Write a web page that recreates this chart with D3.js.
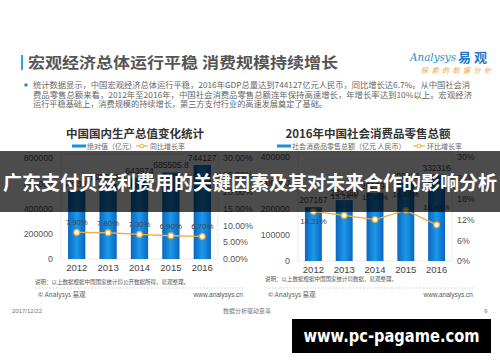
<!DOCTYPE html>
<html>
<head>
<meta charset="utf-8">
<script src="https://cdn.jsdelivr.net/npm/d3@7"></script>
<style>
  html, body { margin: 0; padding: 0; background: #fff; }
  svg { display: block; }
  text { font-family: "Noto Sans CJK SC", "Noto Sans", sans-serif; }
  .num { font-family: "Liberation Sans", Arial, sans-serif; }
</style>
</head>
<body>
<svg id="chart" width="500" height="362"></svg>
<script>
// --- data ---
const years = ['2012', '2013', '2014', '2015', '2016'];
const gdpValues = [540367, 595244.4, 643974, 685505.8, 744127];
const gdpGrowth = [7.9, 7.8, 7.3, 6.9, 6.7];
const retailValues = [207167, 234380, 262394, 300931, 332316];
const retailGrowth = [14.31, 13.14, 11.96, 14.69, 10.43];
const gdpTicks = [0, 200000, 400000, 600000, 800000];
const gdpPctTicks = [0, 5, 10, 15, 20, 25, 30];
const retailTicks = [0, 100000, 200000, 300000, 400000];
const retailPctTicks = [0, 6, 12, 18, 24, 30];

const BLUE = '#1b8ee0';
const ORANGE = '#f1ac3e';
const GREY = '#666';

const svg = d3.select('#chart');

// gradient for bars (lighter in the middle)
const defs = svg.append('defs');
const grad = defs.append('linearGradient').attr('id', 'barGrad')
  .attr('x1', 0).attr('x2', 1).attr('y1', 0).attr('y2', 0);
grad.append('stop').attr('offset', '0%').attr('stop-color', '#0a66bd');
grad.append('stop').attr('offset', '50%').attr('stop-color', '#1d98ea');
grad.append('stop').attr('offset', '100%').attr('stop-color', '#0a66bd');

// --- slide header ---
svg.append('rect').attr('x', 21).attr('y', 55).attr('width', 2).attr('height', 15).attr('fill', '#3aa0d8');
svg.append('text').attr('x', 28).attr('y', 68)
  .attr('font-size', 15).attr('font-weight', 'bold').attr('fill', '#555')
  .attr('textLength', 310).attr('lengthAdjust', 'spacingAndGlyphs')
  .text('宏观经济总体运行平稳  消费规模持续增长');

// logo
svg.append('text').attr('x', 410).attr('y', 61)
  .attr('font-size', 11).attr('font-style', 'italic').attr('fill', '#2a8fc8')
  .attr('textLength', 46).attr('lengthAdjust', 'spacingAndGlyphs')
  .style('font-family', '"DejaVu Serif", serif').text('Analysys');
svg.append('text').attr('x', 458).attr('y', 62)
  .attr('font-size', 13).attr('font-weight', 'bold').attr('fill', '#1f78c8')
  .text('易 观');
svg.append('text').attr('x', 421).attr('y', 73)
  .attr('font-size', 7).attr('font-style', 'italic').attr('fill', '#f0a040')
  .attr('textLength', 70).attr('lengthAdjust', 'spacing')
  .text('探索的数据分析');

// bullet text
svg.append('circle').attr('cx', 26).attr('cy', 85).attr('r', 1.8).attr('fill', '#2a8fc8');
const bullet = [
  ['统计数据显示，中国宏观经济总体运行平稳，2016年GDP总量达到744127亿元人民币，同比增长达6.7%。从中国社会消', 437],
  ['费品零售总额来看，2012年至2016年，中国社会消费品零售总额连年保持高速增长，年增长率达到10%以上。宏观经济', 439],
  ['运行平稳基础上，消费规模的持续增长，第三方支付行业的高速发展奠定了基础。', 294]
];
bullet.forEach((b, i) => {
  svg.append('text').attr('x', 33).attr('y', 88 + i * 9.6)
    .attr('font-size', 8.2).attr('fill', '#666')
    .attr('textLength', b[1]).attr('lengthAdjust', 'spacingAndGlyphs')
    .text(b[0]);
});

// --- panels ---
function drawPanel(p) {
  const g = svg.append('g');

  g.append('text').attr('x', p.titleX).attr('y', 138).attr('text-anchor', 'middle')
    .attr('font-size', 11.5).attr('font-weight', 'bold').attr('fill', '#333')
    .text(p.title);

  // legend
  g.append('rect').attr('x', p.legX).attr('y', 144.5).attr('width', 14).attr('height', 3).attr('fill', BLUE);
  g.append('text').attr('x', p.legX + 15).attr('y', 149).attr('font-size', 7).attr('fill', GREY)
    .text(p.legBar);
  g.append('line').attr('x1', p.legX2).attr('x2', p.legX2 + 12).attr('y1', 146).attr('y2', 146)
    .attr('stroke', ORANGE).attr('stroke-width', 1.2);
  g.append('circle').attr('cx', p.legX2 + 6).attr('cy', 146).attr('r', 2).attr('fill', '#fff')
    .attr('stroke', ORANGE).attr('stroke-width', 1);
  g.append('text').attr('x', p.legX2 + 14).attr('y', 149).attr('font-size', 7).attr('fill', GREY)
    .text(p.legLine);

  const x = d3.scaleBand().domain(years).range([p.left, p.right])
    .paddingInner(0.45).paddingOuter(0.225);
  const y = d3.scaleLinear().domain(p.yDomain).range([p.bottom, p.top]);
  const y2 = d3.scaleLinear().domain([0, 30]).range([p.bottom, p.top]);

  // frame
  g.append('rect').attr('x', p.left).attr('y', p.top - 4)
    .attr('width', p.right - p.left).attr('height', p.bottom - p.top + 4)
    .attr('fill', 'none').attr('stroke', '#e6e6e6').attr('stroke-width', 0.8);

  // axes
  const axL = g.append('g').attr('transform', `translate(${p.left - 5},0)`)
    .call(d3.axisLeft(y).tickValues(p.yTicks).tickSize(0).tickFormat(d3.format('d')));
  axL.select('.domain').remove();
  axL.selectAll('text').attr('class', 'num').attr('font-size', 8.8).attr('fill', '#555');

  const axR = g.append('g').attr('transform', `translate(${p.right + 2},0)`)
    .call(d3.axisRight(y2).tickValues(p.pctTicks).tickSize(0).tickFormat(p.pctFormat));
  axR.select('.domain').remove();
  axR.selectAll('text').attr('class', 'num').attr('font-size', 8.8).attr('fill', '#555');

  const axB = g.append('g').attr('transform', `translate(0,${p.bottom + 2})`)
    .call(d3.axisBottom(x).tickSize(0));
  axB.select('.domain').remove();
  axB.selectAll('text').attr('class', 'num').attr('font-size', 9.5).attr('fill', '#444');

  // bars
  g.selectAll('.bar').data(p.values).enter().append('rect')
    .attr('x', (d, i) => x(years[i]))
    .attr('y', d => y(d))
    .attr('width', x.bandwidth())
    .attr('height', d => p.bottom - y(d))
    .attr('fill', 'url(#barGrad)');

  g.selectAll('.barLabel').data(p.values).enter().append('text')
    .attr('class', 'num')
    .attr('x', (d, i) => x(years[i]) + x.bandwidth() / 2)
    .attr('y', d => y(d) - 4)
    .attr('text-anchor', 'middle').attr('font-size', 8.5).attr('fill', '#444')
    .text(d => d);

  // line
  const cx = i => x(years[i]) + x.bandwidth() / 2;
  const line = d3.line().x((d, i) => cx(i)).y(d => y2(d));
  g.append('path').datum(p.growth).attr('d', line)
    .attr('fill', 'none').attr('stroke', ORANGE).attr('stroke-width', 1.3);
  g.selectAll('.pt').data(p.growth).enter().append('circle')
    .attr('cx', (d, i) => cx(i)).attr('cy', d => y2(d)).attr('r', 2.8)
    .attr('fill', '#fff').attr('stroke', ORANGE).attr('stroke-width', 1.2);
  g.selectAll('.ptLabel').data(p.growth).enter().append('text')
    .attr('class', 'num')
    .attr('x', (d, i) => cx(i))
    .attr('y', (d, i) => y2(d) + p.labelOffset[i])
    .attr('text-anchor', 'middle').attr('font-size', 7.8).attr('fill', '#444')
    .text(d => d3.format('.2f')(d) + '%');

  // note + footer
  g.append('text').attr('x', p.noteX).attr('y', p.noteY).attr('font-size', 5.5).attr('fill', '#555')
    .text(p.note);
  g.append('line').attr('x1', p.noteX).attr('x2', p.noteX + 210).attr('y1', 288).attr('y2', 288)
    .attr('stroke', '#bbb').attr('stroke-width', 0.6).attr('stroke-dasharray', '2,1.5');
  g.append('text').attr('x', p.noteX + 3).attr('y', 297).attr('font-size', 6.5).attr('fill', '#555')
    .text('© Analysys 易观');
  g.append('text').attr('x', p.noteX + 208).attr('y', 297).attr('text-anchor', 'end')
    .attr('font-size', 6.5).attr('fill', '#555').attr('class', 'num')
    .text('www.analysys.cn');
}

drawPanel({
  title: '中国国内生产总值变化统计', titleX: 135,
  legBar: '绝对值（亿元）', legLine: '同比增长率', legX: 72, legX2: 136,
  left: 61, right: 218, top: 158, bottom: 259,
  yDomain: [0, 800000], yTicks: gdpTicks, pctTicks: gdpPctTicks,
  pctFormat: d => d3.format('.2f')(d) + '%',
  values: gdpValues, growth: gdpGrowth,
  labelOffset: [-7, -7, -7, -7, -7],
  note: '说明：以上数据根据中国国家统计局公开数据所得，易观整理。', noteX: 35, noteY: 284
});

drawPanel({
  title: '2016年中国社会消费品零售总额', titleX: 368,
  legBar: '社会消费品零售总额（亿元 人民币）', legLine: '环比增长率', legX: 277, legX2: 413,
  left: 298, right: 452, top: 157, bottom: 261,
  yDomain: [0, 400000], yTicks: retailTicks, pctTicks: retailPctTicks,
  pctFormat: d => d + '%',
  values: retailValues, growth: retailGrowth,
  labelOffset: [13, -16, -20, -13, -15],
  note: '说明：以上数据根据中国国家统计局数据，易观整理。', noteX: 265, noteY: 281
});

// slide footer
svg.append('text').attr('x', 12).attr('y', 313).attr('font-size', 6).attr('fill', '#777')
  .attr('class', 'num').text('2017/12/22');
svg.append('text').attr('x', 223).attr('y', 313).attr('font-size', 6).attr('fill', '#777')
  .text('数据分析驱动变革');
svg.append('text').attr('x', 484).attr('y', 313).attr('font-size', 6).attr('fill', '#777')
  .attr('class', 'num').text('9');

// --- overlay banner ---
svg.append('rect').attr('x', 0).attr('y', 151).attr('width', 500).attr('height', 61)
  .attr('fill', 'rgba(0,0,0,0.7)');
svg.append('text').attr('x', 250).attr('y', 190).attr('text-anchor', 'middle')
  .attr('font-size', 19).attr('font-weight', 'bold').attr('fill', '#fff')
  .attr('textLength', 494).attr('lengthAdjust', 'spacingAndGlyphs')
  .text('广东支付贝兹利费用的关键因素及其对未来合作的影响分析');

// watermark
svg.append('rect').attr('x', 292).attr('y', 319).attr('width', 199).attr('height', 34).attr('fill', '#000');
svg.append('text').attr('x', 391.5).attr('y', 342).attr('text-anchor', 'middle')
  .attr('font-size', 17).attr('font-weight', 'bold').attr('fill', '#fff')
  .style('font-family', '"DejaVu Sans", sans-serif')
  .attr('textLength', 176).attr('lengthAdjust', 'spacingAndGlyphs')
  .text('www.pc-pagame.com');
</script>
</body>
</html>
